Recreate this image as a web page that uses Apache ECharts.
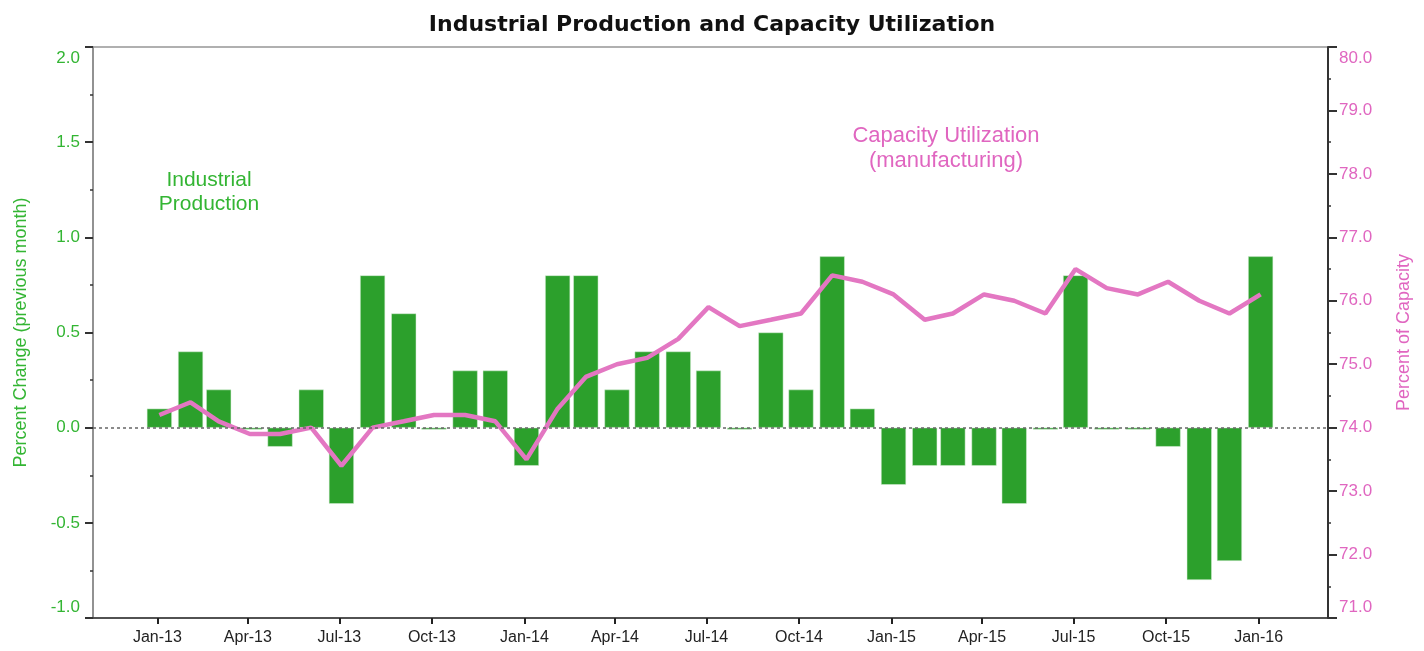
<!DOCTYPE html>
<html>
	<head>
		<meta charset="utf-8">
		<script src="https://cdn.jsdelivr.net/npm/echarts@6/dist/echarts.min.js"></script>
		<title>Industrial Production and Capacity Utilization</title>
	</head>
	<body>
		<style>
			html,
			body,
			#main {
				width: 100%;
				height: 100%;
				margin: 0;
				background: #fff;
			}
		</style>
		<div id="main"></div>
		<script type="text/javascript">
			// monthly data, Jan-13 .. Jan-16
			var months = [
				'2013-01', '2013-02', '2013-03', '2013-04', '2013-05', '2013-06',
				'2013-07', '2013-08', '2013-09', '2013-10', '2013-11', '2013-12',
				'2014-01', '2014-02', '2014-03', '2014-04', '2014-05', '2014-06',
				'2014-07', '2014-08', '2014-09', '2014-10', '2014-11', '2014-12',
				'2015-01', '2015-02', '2015-03', '2015-04', '2015-05', '2015-06',
				'2015-07', '2015-08', '2015-09', '2015-10', '2015-11', '2015-12',
				'2016-01'
			];
			// industrial production, % change from previous month
			var ipChange = [
				0.1, 0.4, 0.2, -0.01, -0.1, 0.2, -0.4, 0.8, 0.6, -0.01, 0.3, 0.3,
				-0.2, 0.8, 0.8, 0.2, 0.4, 0.4, 0.3, -0.01, 0.5, 0.2, 0.9, 0.1,
				-0.3, -0.2, -0.2, -0.2, -0.4, -0.01, 0.8, -0.01, -0.01, -0.1, -0.8, -0.7,
				0.9
			];
			// capacity utilization (manufacturing), percent of capacity
			var capUtil = [
				74.2, 74.4, 74.1, 73.9, 73.9, 74.0, 73.4, 74.0, 74.1, 74.2, 74.2, 74.1,
				73.5, 74.3, 74.8, 75.0, 75.1, 75.4, 75.9, 75.6, 75.7, 75.8, 76.4, 76.3,
				76.1, 75.7, 75.8, 76.1, 76.0, 75.8, 76.5, 76.2, 76.1, 76.3, 76.0, 75.8,
				76.1
			];
			// x tick labels
			var tickMonths = [
				'2013-01', '2013-04', '2013-07', '2013-10',
				'2014-01', '2014-04', '2014-07', '2014-10',
				'2015-01', '2015-04', '2015-07', '2015-10',
				'2016-01'
			];
			var tickLabels = [
				'Jan-13', 'Apr-13', 'Jul-13', 'Oct-13',
				'Jan-14', 'Apr-14', 'Jul-14', 'Oct-14',
				'Jan-15', 'Apr-15', 'Jul-15', 'Oct-15',
				'Jan-16'
			];

			function toTime(s, day) {
				var p = s.split('-');
				return Date.UTC(+p[0], +p[1] - 1, day || 1);
			}
			var tickTimes = tickMonths.map(function(m) { return toTime(m); });
			// points sit a couple of days after the month tick, as in the original
			var barData = months.map(function(m, i) { return [toTime(m, 3), ipChange[i]]; });
			var lineData = months.map(function(m, i) { return [toTime(m, 3), capUtil[i]]; });

			var green = '#2ca02c';
			var greenText = '#33b533';
			var pink = '#e377c2';
			var pinkText = '#e066c0';
			var font = 'Liberation Sans';

			var myChart = echarts.init(document.getElementById('main'));

			function edgeLabel(value, lo, hi) {
				var s = value.toFixed(1);
				if (Math.abs(value - hi) < 1e-9) return '{top|' + s + '}';
				if (Math.abs(value - lo) < 1e-9) return '{bot|' + s + '}';
				return s;
			}
			function edgeRich(color) {
				return {
					top: { color: color, fontSize: 17, fontFamily: font, padding: [22, 0, 0, 0] },
					bot: { color: color, fontSize: 17, fontFamily: font, padding: [0, 0, 22, 0] }
				};
			}

			var option = {
				backgroundColor: '#fff',
				animation: false,
				title: {
					text: 'Industrial Production and Capacity Utilization',
					left: 'center',
					top: 9,
					textStyle: { fontFamily: 'DejaVu Sans', fontSize: 22, fontWeight: 'bold', color: '#111' }
				},
				grid: {
					left: 93,
					right: 96,
					top: 47,
					bottom: 33,
					containLabel: false,
					outerBoundsMode: 'none',
					show: true,
					borderColor: '#b0b0b0',
					borderWidth: 2
				},
				xAxis: {
					type: 'value',
					min: Date.UTC(2012, 9, 29),
					max: Date.UTC(2016, 2, 10),
					splitLine: { show: false },
					axisLine: { show: true, onZero: false, lineStyle: { color: '#333', width: 1.5 } },
					axisTick: { show: true, customValues: tickTimes, length: 6, lineStyle: { color: '#222', width: 2 } },
					axisLabel: {
						customValues: tickTimes,
						margin: 12,
						fontFamily: font,
						fontSize: 16,
						color: '#222',
						formatter: function(v) {
							var i = tickTimes.indexOf(v);
							return i >= 0 ? tickLabels[i] : '';
						}
					}
				},
				yAxis: [{
					type: 'value',
					min: -1,
					max: 2,
					interval: 0.5,
					position: 'left',
					name: 'Percent Change (previous month)',
					nameLocation: 'middle',
					nameRotate: 90,
					nameGap: 63,
					nameTextStyle: { color: greenText, fontFamily: font, fontSize: 18 },
					splitLine: { show: false },
					axisLine: { show: true, onZero: false, lineStyle: { color: '#888', width: 1.5 } },
					axisTick: { show: true, length: 8, lineStyle: { color: '#333', width: 2 } },
					minorTick: { show: true, splitNumber: 2, length: 3, lineStyle: { color: '#333', width: 1.5 } },
					axisLabel: {
						margin: 13,
						fontFamily: font,
						fontSize: 17,
						color: greenText,
						formatter: function(v) { return edgeLabel(v, -1, 2); },
						rich: edgeRich(greenText)
					}
				}, {
					type: 'value',
					min: 71,
					max: 80,
					interval: 1,
					position: 'right',
					name: 'Percent of Capacity',
					nameLocation: 'middle',
					nameRotate: 90,
					nameGap: 67,
					nameTextStyle: { color: pinkText, fontFamily: font, fontSize: 18 },
					splitLine: { show: false },
					axisLine: { show: true, onZero: false, lineStyle: { color: '#333', width: 2 } },
					axisTick: { show: true, length: 9, lineStyle: { color: '#333', width: 2 } },
					minorTick: { show: true, splitNumber: 2, length: 3, lineStyle: { color: '#333', width: 1.5 } },
					axisLabel: {
						margin: 11,
						fontFamily: font,
						fontSize: 17,
						color: pinkText,
						formatter: function(v) { return edgeLabel(v, 71, 80); },
						rich: edgeRich(pinkText)
					}
				}],
				graphic: [{
					type: 'text',
					x: 209,
					y: 168,
					style: {
						text: 'Industrial\nProduction',
						align: 'center',
						verticalAlign: 'top',
						fill: greenText,
						font: '21px "Liberation Sans"',
						lineHeight: 24
					}
				}, {
					type: 'text',
					x: 946,
					y: 123,
					style: {
						text: 'Capacity Utilization\n(manufacturing)',
						align: 'center',
						verticalAlign: 'top',
						fill: pinkText,
						font: '22px "Liberation Sans"',
						lineHeight: 25
					}
				}],
				series: [{
					name: 'Industrial Production',
					type: 'bar',
					xAxisIndex: 0,
					yAxisIndex: 0,
					barWidth: 25,
					itemStyle: { color: green, borderColor: '#d8efd8', borderWidth: 0.5 },
					data: barData,
					markLine: {
						silent: true,
						symbol: 'none',
						label: { show: false },
						lineStyle: { color: '#666', type: [3, 3], width: 1.5 },
						data: [{ yAxis: 0 }]
					},
					z: 2
				}, {
					name: 'Capacity Utilization',
					type: 'line',
					xAxisIndex: 0,
					yAxisIndex: 1,
					showSymbol: false,
					symbol: 'none',
					lineStyle: { color: pink, width: 4.5 },
					itemStyle: { color: pink },
					data: lineData,
					z: 3
				}]
			};

			myChart.setOption(option);

			window.onresize = function() {
				myChart.resize();
			}
		</script>
	</body>
</html>
